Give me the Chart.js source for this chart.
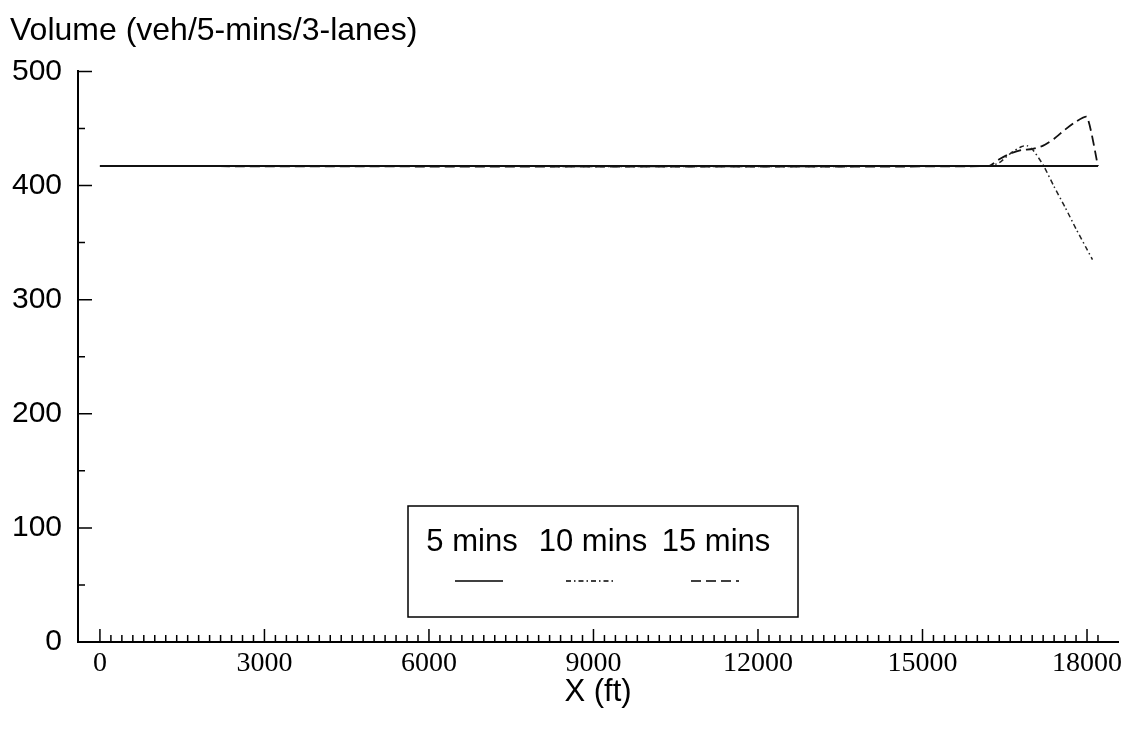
<!DOCTYPE html>
<html>
<head>
<meta charset="utf-8">
<title>Volume profile</title>
<script src="https://cdn.jsdelivr.net/npm/chart.js@4/dist/chart.umd.min.js"></script>
<style>
  html, body { margin: 0; padding: 0; background: #fff; }
  #volumeChart { display: block; }
</style>
</head>
<body>
<canvas id="volumeChart" width="1132" height="741"></canvas>
<script>
// distance along the freeway (ft) and volume for each aggregation interval
const xFeet5 = [0, 18200];
const vol5 = [417, 417];

const xFeet10 = [0, 16200, 16400, 16600, 16800, 16900, 17000, 17200, 17400, 17600, 17800, 18000, 18100];
const vol10 = [417, 417, 420, 428, 434, 435, 432, 418, 399, 381, 362, 344, 335];

const xFeet15 = [0, 16200, 16400, 16600, 16800, 17000, 17200, 17400, 17600, 17800, 18000, 18200];
const vol15 = [417, 417, 423, 428, 431, 432, 435, 441, 449, 456, 460, 417];

const seriesLabels = ["5 mins", "10 mins", "15 mins"];
const xTickValues = [0, 3000, 6000, 9000, 12000, 15000, 18000];
const yTickValues = [0, 100, 200, 300, 400, 500];

const toPoints = (xs, ys) => xs.map((x, i) => ({ x: x, y: ys[i] }));

Chart.defaults.color = "#000";
Chart.defaults.font.family = "'Liberation Sans', Arial, sans-serif";

// little inward tick marks on both axes, majors longer than minors
const axisTicks = {
    id: "axisTicks",
    afterDraw(chart) {
        const { ctx, chartArea: area, scales: { x, y } } = chart;
        ctx.save();
        ctx.strokeStyle = "#000";
        ctx.lineWidth = 1.5;
        ctx.beginPath();
        for (let v = 0; v <= 18200; v += 200) {
            const px = x.getPixelForValue(v);
            const len = v % 3000 === 0 ? 13 : 7;
            ctx.moveTo(px, area.bottom);
            ctx.lineTo(px, area.bottom - len);
        }
        for (let v = 0; v <= 500; v += 50) {
            const py = y.getPixelForValue(v);
            const len = v % 100 === 0 ? 14 : 7;
            ctx.moveTo(area.left, py);
            ctx.lineTo(area.left + len, py);
        }
        ctx.stroke();
        ctx.restore();
    }
};

// boxed legend with labels on top and line samples underneath
const boxLegend = {
    id: "boxLegend",
    afterDraw(chart, args, opts) {
        const { ctx } = chart;
        ctx.save();
        ctx.strokeStyle = "#000";
        ctx.lineWidth = 1.5;
        ctx.strokeRect(opts.left, opts.top, opts.width, opts.height);
        ctx.fillStyle = "#000";
        ctx.font = "31px 'Liberation Sans', Arial, sans-serif";
        ctx.textAlign = "center";
        ctx.textBaseline = "middle";
        chart.data.datasets.forEach((ds, i) => {
            const cx = opts.columns[i];
            ctx.fillText(ds.label, cx, opts.top + 36);
            ctx.setLineDash(ds.borderDash || []);
            ctx.lineWidth = 1.5;
            ctx.beginPath();
            ctx.moveTo(opts.samples[i] - 24, opts.top + 75);
            ctx.lineTo(opts.samples[i] + 24, opts.top + 75);
            ctx.stroke();
        });
        ctx.restore();
    }
};

const volumeData = {
    datasets: [
        {
            label: seriesLabels[0],
            data: toPoints(xFeet5, vol5),
            borderColor: "#111",
            borderWidth: 2,
        },
        {
            label: seriesLabels[1],
            data: toPoints(xFeet10, vol10),
            borderColor: "#222",
            borderWidth: 1.5,
            borderDash: [5, 3, 1.5, 3],
        },
        {
            label: seriesLabels[2],
            data: toPoints(xFeet15, vol15),
            borderColor: "#111",
            borderWidth: 1.8,
            borderDash: [10, 5],
        },
    ],
};

const volumeConfig = {
    type: "line",
    data: volumeData,
    options: {
        responsive: false,
        animation: false,
        layout: { padding: { left: 10, right: 14, top: 0, bottom: 0 } },
        elements: {
            point: { radius: 0 },
            line: { tension: 0.2, fill: false },
        },
        scales: {
            x: {
                type: "linear",
                min: -400,
                max: 18565,
                afterBuildTicks: (scale) => {
                    scale.ticks = xTickValues.map(v => ({ value: v }));
                },
                afterFit: (scale) => { scale.height = 99; },
                grid: { display: false, drawTicks: false },
                border: { display: true, color: "#000", width: 2 },
                ticks: {
                    autoSkip: false,
                    maxRotation: 0,
                    padding: 5,
                    font: { family: "'Liberation Serif', 'Times New Roman', serif", size: 28 },
                    callback: (v) => String(v),
                },
                title: {
                    display: true,
                    text: "X (ft)",
                    font: { size: 31 },
                    padding: { top: 0, bottom: 30 },
                },
            },
            y: {
                min: 0,
                max: 500,
                afterBuildTicks: (scale) => {
                    scale.ticks = yTickValues.map(v => ({ value: v }));
                },
                afterFit: (scale) => { scale.width = 68; },
                grid: { display: false, drawTicks: false },
                border: { display: true, color: "#000", width: 2 },
                ticks: {
                    padding: 16,
                    font: { size: 30 },
                    callback: (v) => String(v),
                },
            },
        },
        plugins: {
            legend: { display: false },
            tooltip: { enabled: false },
            title: {
                display: true,
                text: "Volume (veh/5-mins/3-lanes)",
                align: "start",
                font: { size: 32, weight: "normal" },
                padding: { top: 12, bottom: 21 },
            },
            boxLegend: {
                left: 408,
                top: 506,
                width: 390,
                height: 111,
                columns: [472, 593, 716],
                samples: [479, 590, 715],
            },
        },
    },
    plugins: [axisTicks, boxLegend],
};

const volumeChart = new Chart(
    document.getElementById("volumeChart"),
    volumeConfig);
</script>
</body>
</html>
